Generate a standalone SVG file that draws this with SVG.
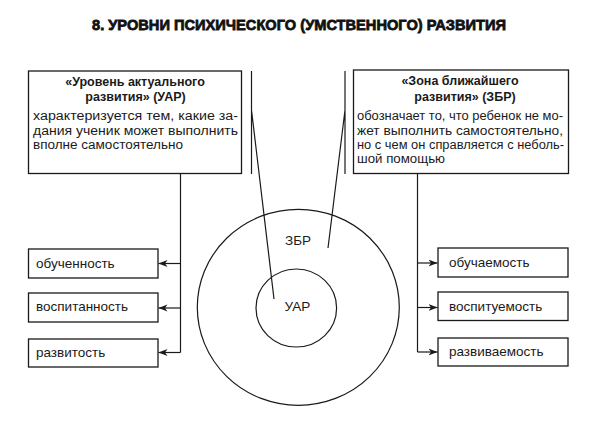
<svg xmlns="http://www.w3.org/2000/svg" width="598" height="442" viewBox="0 0 598 442">
<style>
.bx{fill:none;stroke:#1a1a1a;stroke-width:1.3}
.ln{fill:none;stroke:#1a1a1a;stroke-width:1.2}
.t{font-family:"Liberation Sans",Arial,sans-serif;font-size:12.5px;fill:#1a1a1a}
.s{font-size:13.5px}
.b{font-weight:bold;text-anchor:middle}
.ttl{font-family:"Liberation Sans",Arial,sans-serif;font-size:15.5px;font-weight:bold;fill:#111;stroke:#111;stroke-width:0.8}
</style>
<defs>
<marker id="ar" markerUnits="userSpaceOnUse" markerWidth="10" markerHeight="8" refX="9" refY="4" orient="auto">
<path d="M0,0.5 L9,4 L0,7.5 L2.5,4 Z" fill="#1a1a1a"/>
</marker>
</defs>
<rect width="598" height="442" fill="#fff"/>
<text class="ttl" x="92" y="30" textLength="414" lengthAdjust="spacingAndGlyphs">8. УРОВНИ ПСИХИЧЕСКОГО (УМСТВЕННОГО) РАЗВИТИЯ</text>

<g id="uar-box">
<rect class="bx" x="28.5" y="71" width="213" height="102.5"/>
<text class="t b" x="135" y="86">«Уровень актуального</text>
<text class="t b" x="135.5" y="101">развития» (УАР)</text>
<text class="t" x="33" y="120" textLength="205" lengthAdjust="spacingAndGlyphs">характеризуется тем, какие за-</text>
<text class="t" x="33" y="134.5" textLength="205" lengthAdjust="spacingAndGlyphs">дания ученик может выполнить</text>
<text class="t" x="33" y="149" textLength="150" lengthAdjust="spacingAndGlyphs">вполне самостоятельно</text>
</g>

<g id="zbr-box">
<rect class="bx" x="353.5" y="70" width="215" height="103.5"/>
<text class="t b" x="460" y="85">«Зона ближайшего</text>
<text class="t b" x="465" y="101">развития» (ЗБР)</text>
<text class="t" x="357" y="120" textLength="206" lengthAdjust="spacingAndGlyphs">обозначает то, что ребенок не мо-</text>
<text class="t" x="357" y="134.5" textLength="206" lengthAdjust="spacingAndGlyphs">жет выполнить самостоятельно,</text>
<text class="t" x="357" y="148.5" textLength="207" lengthAdjust="spacingAndGlyphs">но с чем он справляется с неболь-</text>
<text class="t" x="357" y="162.5" textLength="88" lengthAdjust="spacingAndGlyphs">шой помощью</text>
</g>

<g id="circles">
<ellipse class="ln" cx="298.3" cy="307.3" rx="101" ry="98"/>
<ellipse class="ln" cx="296.3" cy="308" rx="40.3" ry="39"/>
<text class="t s" x="285" y="245">ЗБР</text>
<text class="t s" x="284.5" y="310.5">УАР</text>
</g>

<g id="l1"><rect class="bx" x="28.5" y="249" width="129.5" height="29"/><text class="t s" x="36" y="267.5">обученность</text></g>
<g id="l2"><rect class="bx" x="28.5" y="293" width="129.5" height="29"/><text class="t s" x="36" y="311">воспитанность</text></g>
<g id="l3"><rect class="bx" x="28.5" y="339" width="129.5" height="28"/><text class="t s" x="36" y="356.5">развитость</text></g>

<g id="r1"><rect class="bx" x="438" y="248" width="130" height="29"/><text class="t s" x="449" y="266.5">обучаемость</text></g>
<g id="r2"><rect class="bx" x="438" y="292" width="130" height="28.5"/><text class="t s" x="449" y="310.5">воспитуемость</text></g>
<g id="r3"><rect class="bx" x="438" y="338" width="130" height="28"/><text class="t s" x="449" y="356">развиваемость</text></g>

<g id="connectors">
<path class="ln" d="M180.5,173.5 V352.5"/>
<path class="ln" d="M180.5,263.5 H158.5" marker-end="url(#ar)"/>
<path class="ln" d="M180.5,308 H158.5" marker-end="url(#ar)"/>
<path class="ln" d="M180.5,352.5 H158.5" marker-end="url(#ar)"/>
<path class="ln" d="M417.5,173.5 V352"/>
<path class="ln" d="M417.5,263 H437.5" marker-end="url(#ar)"/>
<path class="ln" d="M417.5,307.5 H437.5" marker-end="url(#ar)"/>
<path class="ln" d="M417.5,352 H437.5" marker-end="url(#ar)"/>
<path class="ln" d="M251.5,71 V174 M251.5,110 L274,299"/>
<path class="ln" d="M345,71 V174 M345,110 L328,248"/>
</g>
</svg>
